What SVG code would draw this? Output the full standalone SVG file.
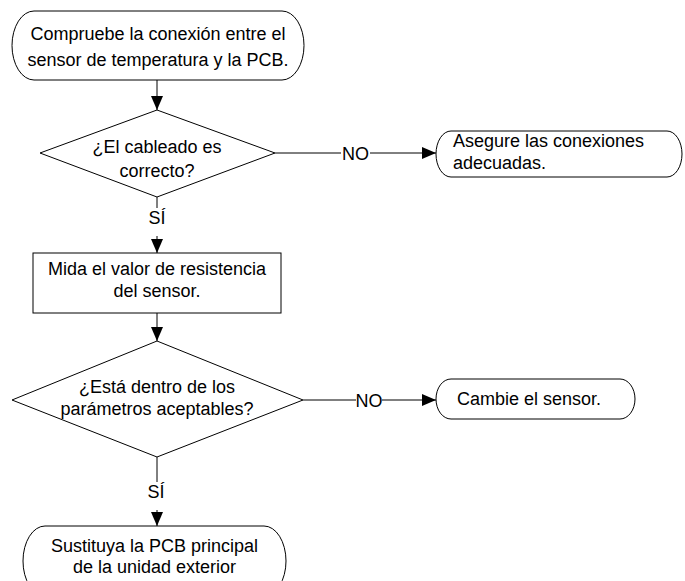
<svg xmlns="http://www.w3.org/2000/svg" width="685" height="581" viewBox="0 0 685 581">
<defs>
<style>
.s{fill:#fff;stroke:#000;stroke-width:1}
.t{font-family:"Liberation Sans",Arial,sans-serif;font-size:18px;fill:#000}
.c{text-anchor:middle}
.l{stroke:#000;stroke-width:1;fill:none}
</style>
<marker id="a" markerUnits="userSpaceOnUse" markerWidth="14" markerHeight="12" refX="14" refY="6" orient="auto" viewBox="0 0 14 12">
<path d="M0,0 L14,6 L0,12 Z" fill="#000"/>
</marker>
</defs>
<rect width="685" height="581" fill="#fff"/>
<g id="connectors">
<line class="l" x1="157" y1="80" x2="157" y2="110" marker-end="url(#a)"/>
<line class="l" x1="275" y1="153" x2="341" y2="153"/>
<text class="t c" x="355.5" y="159.5">NO</text>
<line class="l" x1="370" y1="153" x2="436" y2="153" marker-end="url(#a)"/>
<line class="l" x1="157" y1="197" x2="157" y2="208"/>
<text class="t c" x="157" y="224">SÍ</text>
<line class="l" x1="157" y1="236" x2="157" y2="253" marker-end="url(#a)"/>
<line class="l" x1="157" y1="313" x2="157" y2="341" marker-end="url(#a)"/>
<line class="l" x1="303" y1="400" x2="356" y2="400"/>
<text class="t c" x="369" y="406.5">NO</text>
<line class="l" x1="382" y1="400" x2="436" y2="400" marker-end="url(#a)"/>
<line class="l" x1="157" y1="457" x2="157" y2="482"/>
<text class="t c" x="156" y="498">SÍ</text>
<line class="l" x1="157" y1="510" x2="157" y2="526" marker-end="url(#a)"/>
</g>
<g id="start">
<rect class="s" x="12" y="11" width="292" height="69" rx="22" ry="34.5"/>
<text class="t c" x="158" y="40">Compruebe la conexión entre el</text>
<text class="t c" x="158" y="65.5">sensor de temperatura y la PCB.</text>
</g>
<g id="decision1">
<polygon class="s" points="157,110 275,153 157,197 40,153"/>
<text class="t c" x="157" y="153">¿El cableado es</text>
<text class="t c" x="157" y="176.5">correcto?</text>
</g>
<g id="fix-connections">
<rect class="s" x="436" y="131" width="246" height="46" rx="15" ry="23"/>
<text class="t" x="453" y="147">Asegure las conexiones</text>
<text class="t" x="453" y="169">adecuadas.</text>
</g>
<g id="measure">
<rect class="s" x="33" y="253" width="248" height="60"/>
<text class="t c" x="157" y="275">Mida el valor de resistencia</text>
<text class="t c" x="157" y="297">del sensor.</text>
</g>
<g id="decision2">
<polygon class="s" points="157,341 303,400 157,457 12,400"/>
<text class="t c" x="157" y="393">¿Está dentro de los</text>
<text class="t c" x="157" y="415">parámetros aceptables?</text>
</g>
<g id="replace-sensor">
<rect class="s" x="436" y="379" width="199" height="40" rx="15" ry="20"/>
<text class="t" x="457" y="405">Cambie el sensor.</text>
</g>
<g id="replace-pcb">
<rect class="s" x="23" y="526" width="263" height="70" rx="22" ry="35"/>
<text class="t c" x="154.5" y="552">Sustituya la PCB principal</text>
<text class="t c" x="154.5" y="573">de la unidad exterior</text>
</g>
</svg>
